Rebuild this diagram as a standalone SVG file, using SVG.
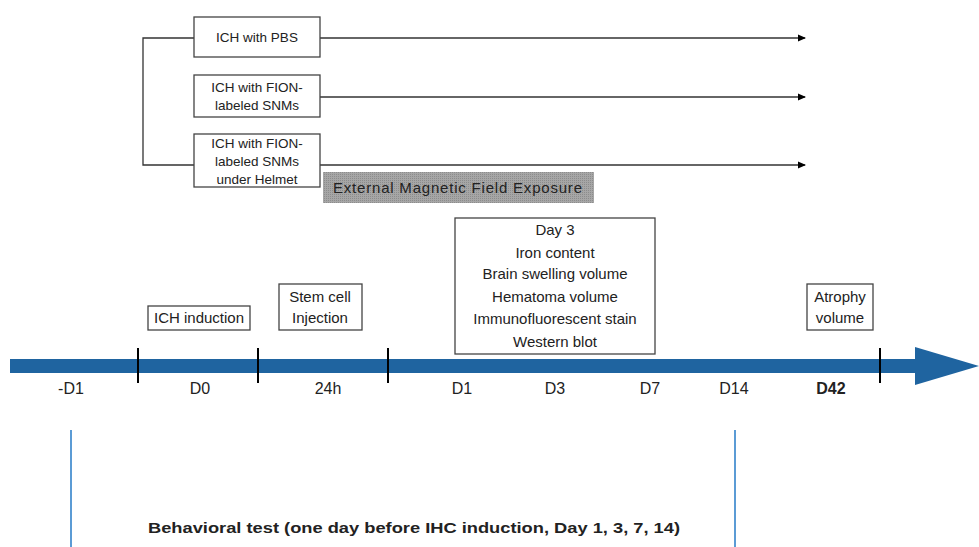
<svg xmlns="http://www.w3.org/2000/svg" width="979" height="547" viewBox="0 0 979 547">
<defs>
<marker id="ah" markerWidth="8" markerHeight="8" refX="7" refY="4" orient="auto" markerUnits="userSpaceOnUse">
<path d="M0,0.5 L8,4 L0,7.5 Z" fill="#000"/>
</marker>
<pattern id="dots" width="2" height="2" patternUnits="userSpaceOnUse">
<rect width="2" height="2" fill="#a6a6a6"/>
<rect width="1" height="1" fill="#8c8c8c"/>
</pattern>
</defs>
<style>
text{font-family:"Liberation Sans","DejaVu Sans",sans-serif;fill:#222;}
.box{fill:#fff;stroke:#444;stroke-width:1.3;}
.t{font-size:13.5px;text-anchor:middle;}
.m{font-size:15px;text-anchor:middle;}
.tick{stroke:#000;stroke-width:2;}
.arr{stroke:#333;stroke-width:1.3;fill:none;}
.lab{font-size:16px;text-anchor:middle;}
.vl{stroke:#5b9bd5;stroke-width:2;}
</style>
<rect width="979" height="547" fill="#fff"/>
<g id="connectors">
<path class="arr" d="M194,38 H143 V165 H194"/>
<line class="arr" x1="320" y1="38" x2="805" y2="38" marker-end="url(#ah)"/>
<line class="arr" x1="320" y1="97" x2="805" y2="97" marker-end="url(#ah)"/>
<line class="arr" x1="320" y1="165" x2="805" y2="165" marker-end="url(#ah)"/>
</g>
<g id="group-pbs">
<rect class="box" x="194" y="17" width="126" height="40"/>
<text class="t" x="257" y="42">ICH with PBS</text>
</g>
<g id="group-fion">
<rect class="box" x="194" y="75" width="126" height="42"/>
<text class="t" x="257" y="92">ICH with FION-</text>
<text class="t" x="257" y="110">labeled SNMs</text>
</g>
<g id="group-helmet">
<rect class="box" x="194" y="134" width="126" height="53"/>
<text class="t" x="257" y="148">ICH with FION-</text>
<text class="t" x="257" y="166">labeled SNMs</text>
<text class="t" x="257" y="184">under Helmet</text>
</g>
<g id="magnetic">
<rect x="323" y="172" width="271" height="31" fill="url(#dots)"/>
<text x="333" y="193" font-size="15" fill="#222" textLength="249" lengthAdjust="spacing">External  Magnetic Field Exposure</text>
</g>
<g id="timeline">
<rect x="10" y="359" width="910" height="14" fill="#1f64a0"/>
<path d="M915,347 L979,366 L915,385 Z" fill="#1f64a0"/>
<line class="tick" x1="138" y1="348" x2="138" y2="383"/>
<line class="tick" x1="258" y1="348" x2="258" y2="383"/>
<line class="tick" x1="388" y1="348" x2="388" y2="383"/>
<line class="tick" x1="880" y1="348" x2="880" y2="383"/>
<text class="lab" x="71" y="394">-D1</text>
<text class="lab" x="200" y="394">D0</text>
<text class="lab" x="328" y="394">24h</text>
<text class="lab" x="462" y="394">D1</text>
<text class="lab" x="555" y="394">D3</text>
<text class="lab" x="650" y="394">D7</text>
<text class="lab" x="734" y="394">D14</text>
<text class="lab" x="831" y="394" font-weight="bold" font-size="18">D42</text>
</g>
<g id="ich-induction">
<rect class="box" x="148" y="306" width="102" height="24"/>
<text class="m" x="199" y="323">ICH induction</text>
</g>
<g id="stem-cell">
<rect class="box" x="279" y="284" width="83" height="46"/>
<text class="m" x="320" y="302">Stem cell</text>
<text class="m" x="320" y="323">Injection</text>
</g>
<g id="day3">
<rect class="box" x="455" y="218" width="200" height="136"/>
<text class="m" x="555" y="235">Day 3</text>
<text class="m" x="555" y="258">Iron content</text>
<text class="m" x="555" y="279">Brain swelling volume</text>
<text class="m" x="555" y="302">Hematoma volume</text>
<text class="m" x="555" y="324">Immunofluorescent  stain</text>
<text class="m" x="555" y="347">Western blot</text>
</g>
<g id="atrophy">
<rect class="box" x="807" y="284" width="66" height="46"/>
<text class="m" x="840" y="302">Atrophy</text>
<text class="m" x="840" y="323">volume</text>
</g>
<g id="behavioral">
<line class="vl" x1="71" y1="430" x2="71" y2="547"/>
<line class="vl" x1="735" y1="430" x2="735" y2="547"/>
<text x="148" y="533" font-size="15" font-weight="bold" textLength="532" lengthAdjust="spacingAndGlyphs">Behavioral test (one day before IHC induction, Day 1, 3, 7, 14)</text>
</g>
</svg>
